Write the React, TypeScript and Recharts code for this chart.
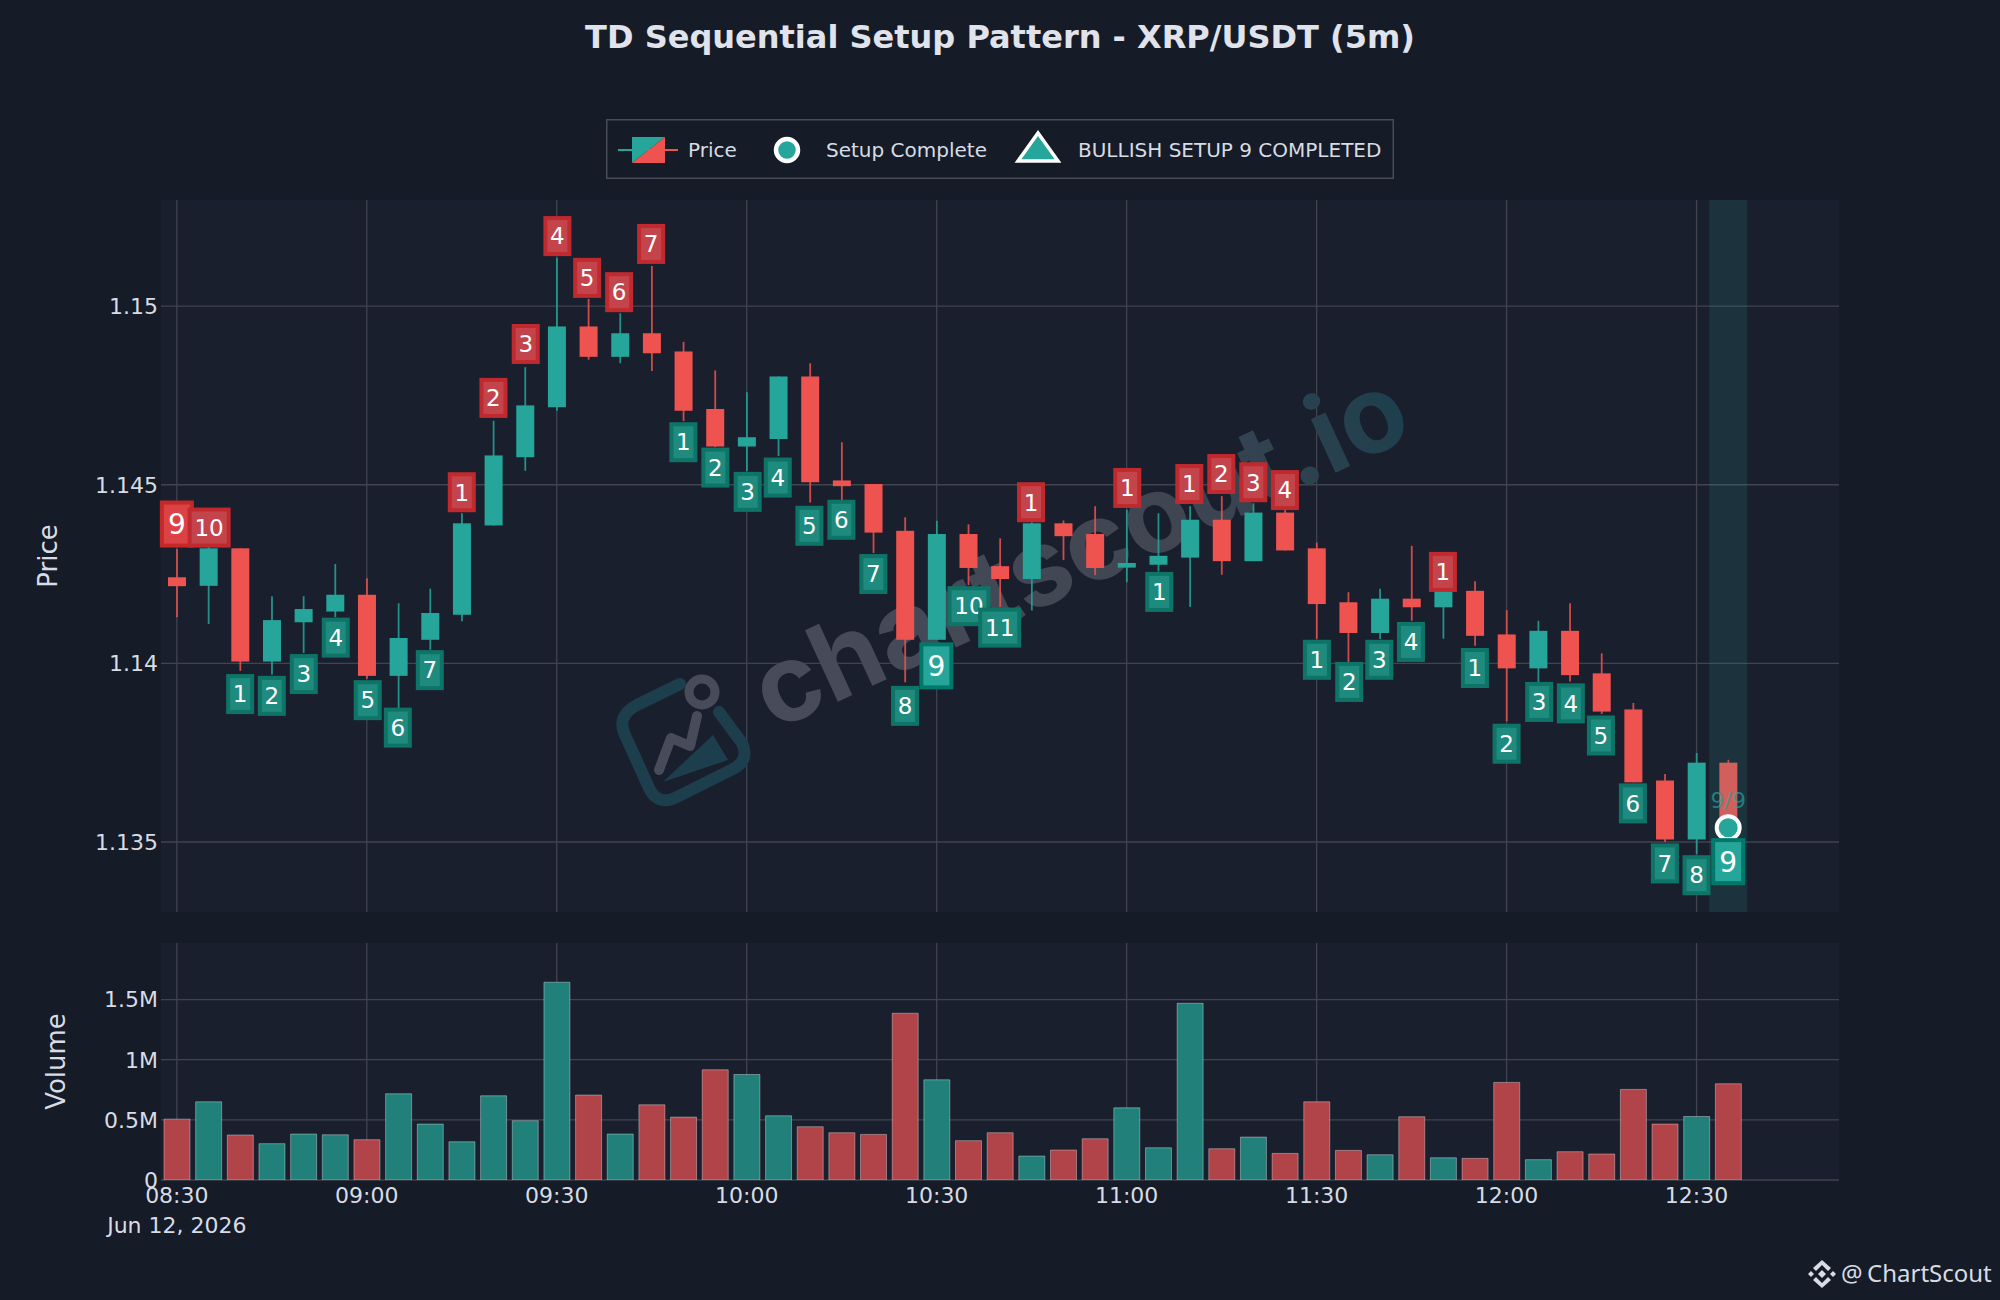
import React from "react";
import {
  ComposedChart,
  BarChart,
  Bar,
  Scatter,
  XAxis,
  YAxis,
  CartesianGrid,
  ReferenceArea,
  ReferenceDot,
  Cell,
} from "recharts";

const UP = "#26a69a";
const DOWN = "#ef5350";
const FONT = "DejaVu Sans";

const opens = [
  1.14241, 1.14217, 1.14322, 1.14005, 1.14115, 1.14145, 1.14192, 1.13965, 1.14066, 1.14136,
  1.14386, 1.14577, 1.14717, 1.14943, 1.14858, 1.14924, 1.14873, 1.14712, 1.14607, 1.14628,
  1.14803, 1.14512, 1.14502, 1.14371, 1.14066, 1.14362, 1.14272, 1.14236, 1.14392, 1.14362,
  1.14268, 1.14276, 1.14296, 1.14402, 1.14286, 1.14422, 1.14322, 1.14171, 1.14085, 1.14181,
  1.14157, 1.14203, 1.14081, 1.13986, 1.14091, 1.13972, 1.13871, 1.13672, 1.13507, 1.13722,
];
const closes = [
  1.14216, 1.14322, 1.14005, 1.14121, 1.14152, 1.14192, 1.13965, 1.14071, 1.14141, 1.14392,
  1.14582, 1.14722, 1.14943, 1.14858, 1.14924, 1.14868, 1.14707, 1.14607, 1.14633, 1.14803,
  1.14507, 1.14496, 1.14366, 1.14066, 1.14362, 1.14267, 1.14236, 1.14392, 1.14356, 1.14267,
  1.14281, 1.14301, 1.14402, 1.14286, 1.14422, 1.14316, 1.14166, 1.14085, 1.14181, 1.14157,
  1.14203, 1.14077, 1.13986, 1.14091, 1.13967, 1.13865, 1.13667, 1.13507, 1.13722, 1.1354,
];
const highs = [
  1.1432, 1.1435, 1.14322, 1.14188, 1.14188, 1.14278, 1.14238, 1.14168, 1.14209, 1.1442,
  1.14679, 1.14829, 1.15135, 1.1502, 1.1498, 1.15112, 1.149, 1.1482, 1.14759, 1.14803,
  1.1484, 1.14619, 1.14502, 1.14409, 1.14399, 1.14389, 1.1435, 1.14395, 1.144, 1.1444,
  1.1443, 1.1442, 1.1444, 1.14468, 1.14448, 1.1443, 1.14338, 1.14199, 1.14209, 1.14329,
  1.14225, 1.1423, 1.14149, 1.14119, 1.14168, 1.14028, 1.13889, 1.1369, 1.13749, 1.1373,
];
const lows = [
  1.14129, 1.1411, 1.13979, 1.13969, 1.14029, 1.14129, 1.13957, 1.13875, 1.14038, 1.14118,
  1.14386, 1.14539, 1.14707, 1.1485, 1.1484, 1.14818, 1.14678, 1.14605, 1.14538, 1.1458,
  1.1445, 1.14457, 1.14309, 1.13947, 1.14066, 1.14219, 1.14158, 1.14148, 1.14289, 1.14247,
  1.14227, 1.14257, 1.14158, 1.14248, 1.14286, 1.14316, 1.14069, 1.13991, 1.14068, 1.14119,
  1.14069, 1.14049, 1.13838, 1.13947, 1.13949, 1.13858, 1.13667, 1.135, 1.13466, 1.1354,
];
const volumes = [
  0.506, 0.65, 0.374, 0.302, 0.382, 0.376, 0.335, 0.717, 0.465, 0.318,
  0.7, 0.493, 1.644, 0.706, 0.382, 0.625, 0.523, 0.916, 0.877, 0.534,
  0.443, 0.393, 0.379, 1.386, 0.833, 0.327, 0.393, 0.199, 0.249, 0.343,
  0.6, 0.268, 1.469, 0.26, 0.357, 0.221, 0.65, 0.246, 0.21, 0.526,
  0.185, 0.18, 0.811, 0.169, 0.235, 0.216, 0.753, 0.465, 0.528, 0.8,
];

const timeTicks = [0, 6, 12, 18, 24, 30, 36, 42, 48];
const timeLabels = ["08:30", "09:00", "09:30", "10:00", "10:30", "11:00", "11:30", "12:00", "12:30"];
const dateLabel = "Jun 12, 2026";
const priceTicks = [1.135, 1.14, 1.145, 1.15];
const volumeTicks = [0, 0.5, 1, 1.5];

// sequence counts: candle slot, price level, text
const sellTags: [number, number, string][] = [
  [0, 1.1439, "9"], [1.02, 1.1438, "10"], [9, 1.14479, "1"], [10, 1.14743, "2"], [11.02, 1.14894, "3"],
  [12.02, 1.15196, "4"], [12.96, 1.15079, "5"], [13.97, 1.15039, "6"], [14.98, 1.15174, "7"],
  [26.98, 1.14451, "1"], [30.02, 1.14491, "1"], [31.98, 1.14502, "1"], [32.99, 1.1453, "2"],
  [34, 1.14507, "3"], [35, 1.14485, "4"], [39.99, 1.14256, "1"],
];
const buyTags: [number, number, string][] = [
  [2, 1.13914, "1"], [3, 1.13909, "2"], [4.01, 1.1397, "3"], [5.02, 1.14072, "4"], [6.03, 1.13897, "5"],
  [6.98, 1.1382, "6"], [7.99, 1.13981, "7"], [16, 1.14619, "1"], [17.01, 1.14548, "2"], [18.03, 1.1448, "3"],
  [18.98, 1.1452, "4"], [19.98, 1.14385, "5"], [20.99, 1.14402, "6"], [22, 1.1425, "7"], [23, 1.13881, "8"],
  [23.99, 1.13993, "9"], [25.02, 1.1416, "10"], [25.99, 1.141, "11"], [31.03, 1.142, "1"], [36.01, 1.1401, "1"],
  [37.03, 1.13948, "2"], [37.98, 1.1401, "3"], [38.98, 1.1406, "4"], [41, 1.13987, "1"], [42, 1.13775, "2"],
  [43.03, 1.13892, "3"], [44.03, 1.13888, "4"], [44.98, 1.13798, "5"], [45.99, 1.13608, "6"], [47, 1.1344, "7"],
  [48, 1.13407, "8"], [49, 1.13445, "9"],
];
// the completed counts get a bigger, brighter box
const completedSell = [0];
const completedBuy = [23.99, 49];
const setupPoint = [{ i: 49, p: 1.1354 }];

const candles = opens.map((open, i) => ({
  i,
  open,
  close: closes[i],
  range: [lows[i], highs[i]],
}));
const volumeData = volumes.map((v, i) => ({ i, v, up: closes[i] >= opens[i] }));
const toTags = (rows: [number, number, string][]) => rows.map(([i, p, text]) => ({ i, p, text }));

function Candle(props: any) {
  const { x, y, width, height, payload } = props;
  const [low, high] = payload.range;
  const perUnit = height / (high - low);
  const up = payload.close >= payload.open;
  const color = up ? UP : DOWN;
  const top = y + (high - Math.max(payload.open, payload.close)) * perUnit;
  const bottom = y + (high - Math.min(payload.open, payload.close)) * perUnit;
  const cx = x + width / 2;
  return (
    <g>
      <line x1={cx} x2={cx} y1={y} y2={y + height} stroke={color} strokeWidth={1.8} opacity={0.85} />
      <rect x={x} y={top} width={width} height={Math.max(bottom - top, 1)} fill={color} />
    </g>
  );
}

function TagBox(props: any, up: boolean) {
  const { cx, cy, payload } = props;
  const big = (up ? completedBuy : completedSell).includes(payload.i);
  const wide = payload.text.length > 1;
  const w = big ? 34 : wide ? 43 : 28;
  const h = big ? 47 : 40;
  let fill = up ? "#1f8a7e" : "#c4444b";
  let stroke = up ? "#0e7468" : "#c02a2f";
  if (big) {
    fill = up ? UP : "#dc4145";
    stroke = up ? "#00796b" : "#c62828";
  }
  return (
    <g>
      <rect x={cx - w / 2 + 2} y={cy - h / 2 + 2} width={w - 4} height={h - 4} fill={fill} stroke={stroke} strokeWidth={4} />
      <text
        x={cx}
        y={cy}
        dy="0.36em"
        textAnchor="middle"
        fill="#ffffff"
        fontFamily={FONT}
        fontSize={big ? 28 : 23}
      >
        {payload.text}
      </text>
    </g>
  );
}

function CompletedDot(props: any) {
  const { cx, cy } = props;
  return <circle cx={cx} cy={cy} r={11.5} fill={UP} stroke="#ffffff" strokeWidth={4} />;
}

function Watermark() {
  return (
    <g>
      <defs>
        <linearGradient id="wm" x1="0" y1="0" x2="1" y2="0">
          <stop offset="0" stopColor="#484c5a" />
          <stop offset="0.65" stopColor="#404552" />
          <stop offset="1" stopColor="#1d3f4d" />
        </linearGradient>
      </defs>
      <text
        x={774}
        y={731}
        transform="rotate(-24.7 774 731)"
        fontFamily="Inter"
        fontWeight="bold"
        fontSize={108}
        fill="url(#wm)"
      >
        chartscout.io
      </text>
      <g fill="none" strokeLinecap="round" strokeLinejoin="round">
        <path d="M680 684 L637 705 Q616 716 625 735 L650 790 Q659 806 677 797 L733 769 Q750 760 742 743 L719 712" stroke="#1d3f4d" strokeWidth={12} />
        <path d="M663 782 L713 735 L728 760 Z" fill="#1d3f4d" stroke="none" />
        <path d="M659 770 L671 738 L690 746 L697 716" stroke="#484c5a" strokeWidth={10} />
        <circle cx={702} cy={692} r={13} stroke="#484c5a" strokeWidth={9} />
      </g>
    </g>
  );
}

function NoTick() {
  return <g />;
}

function TimeTick(props: any) {
  const { x, y, payload, index } = props;
  return (
    <g>
      <text x={x} y={y - 3} dy="0.8em" textAnchor="middle" fill="#d8dce4" fontFamily={FONT} fontSize={22}>
        {timeLabels[timeTicks.indexOf(payload.value)]}
      </text>
      {index === 0 && (
        <text x={x} y={y + 27} dy="0.8em" textAnchor="middle" fill="#d8dce4" fontFamily={FONT} fontSize={22}>
          {dateLabel}
        </text>
      )}
    </g>
  );
}

function PriceLegend() {
  const text = { fill: "#d8dce4", fontFamily: FONT, fontSize: 20 } as const;
  return (
    <svg width={788} height={60} style={{ display: "block" }}>
      <rect x={0.75} y={0.75} width={786.5} height={58.5} fill="#151b27" stroke="#474c58" strokeWidth={1.5} />
      <line x1={12} x2={32} y1={31} y2={31} stroke={UP} strokeWidth={2} />
      <line x1={32} x2={72} y1={31} y2={31} stroke={DOWN} strokeWidth={2} />
      <polygon points="26,18 59,18 26,44" fill={UP} />
      <polygon points="59,18 59,44 26,44" fill={DOWN} />
      <text x={82} y={38} {...text}>Price</text>
      <circle cx={181} cy={31} r={11} fill={UP} stroke="#ffffff" strokeWidth={4.5} />
      <text x={220} y={38} {...text}>Setup Complete</text>
      <polygon points="432,14 452,42 412,42" fill={UP} stroke="#ffffff" strokeWidth={3.5} />
      <text x={472} y={38} {...text}>BULLISH SETUP 9 COMPLETED</text>
    </svg>
  );
}

function Brand() {
  return (
    <div style={{ position: "absolute", left: 1806, top: 1258 }}>
      <svg width={194} height={40} style={{ display: "block" }}>
        <g fill="#d8dce4">
          <polygon points="16,2 25,10 22,13 16,7 10,13 7,10" />
          <polygon points="16,30 25,22 22,19 16,25 10,19 7,22" />
          <polygon points="2,16 5,13 8,16 5,19" />
          <polygon points="30,16 27,13 24,16 27,19" />
          <polygon points="16,12 20,16 16,20 12,16" />
        </g>
        <text x={35} y={24} fill="#d8dce4" fontFamily="Noto Sans" fontSize={24}>@</text>
        <text x={61} y={24} fill="#d8dce4" fontFamily="Noto Sans" fontSize={24}>ChartScout</text>
      </svg>
    </div>
  );
}

export default function App() {
  return (
    <div style={{ position: "absolute", left: 0, top: 0, width: 2000, height: 1300, background: "#151b27", overflow: "hidden" }}>
      <div
        style={{
          position: "absolute",
          left: 0,
          top: 18,
          width: 2000,
          textAlign: "center",
          color: "#e0e3eb",
          fontFamily: FONT,
          fontWeight: "bold",
          fontSize: 32,
        }}
      >
        TD Sequential Setup Pattern - XRP/USDT (5m)
      </div>

      <div style={{ position: "absolute", left: 0, top: 0 }}>
        <ComposedChart
          width={2000}
          height={930}
          data={candles}
          margin={{ top: 200, right: 161, bottom: 18, left: 0 }}
        >
          <CartesianGrid fill="#1a1f2e" stroke="#40444f" strokeWidth={1.3} syncWithTicks verticalValues={timeTicks} />
          <XAxis
            type="number"
            dataKey="i"
            domain={[-0.5, 52.5]}
            ticks={timeTicks}
            tick={NoTick}
            tickLine={false}
            axisLine={false}
            height={0}
          />
          {/* tags sit slightly off their candle, so they get their own axis and the candle width stays intact */}
          <XAxis xAxisId="tags" type="number" dataKey="i" domain={[-0.5, 52.5]} hide />
          <YAxis
            width={161}
            domain={[1.13304, 1.15297]}
            ticks={priceTicks}
            tickFormatter={(v: number) => String(v)}
            tick={{ fill: "#d8dce4", fontFamily: FONT, fontSize: 22 }}
            tickLine={false}
            tickSize={0}
            axisLine={false}
            tickMargin={3}
            allowDataOverflow
            label={{
              value: "Price",
              angle: -90,
              position: "insideLeft",
              offset: 48,
              textAnchor: "middle",
              fill: "#d8dce4",
              fontFamily: FONT,
              fontSize: 26,
            }}
          />
          <Watermark />
          <Bar dataKey="range" barSize={18} shape={Candle} isAnimationActive={false} />
          <ReferenceArea x1={48.4} x2={49.6} fill={UP} fillOpacity={0.15} stroke="none" ifOverflow="visible" zIndex={350} />
          <ReferenceDot x={49} y={1.13618} r={0} label={{ value: "9/9", fill: UP, opacity: 0.65, fontFamily: FONT, fontSize: 22 }} />
          <Scatter xAxisId="tags" data={toTags(sellTags)} dataKey="p" shape={(p: any) => TagBox(p, false)} isAnimationActive={false} />
          <Scatter data={setupPoint} dataKey="p" shape={CompletedDot} isAnimationActive={false} />
          <Scatter xAxisId="tags" data={toTags(buyTags)} dataKey="p" shape={(p: any) => TagBox(p, true)} isAnimationActive={false} />
        </ComposedChart>
      </div>

      <div style={{ position: "absolute", left: 606, top: 119 }}>
        <PriceLegend />
      </div>

      <div style={{ position: "absolute", left: 0, top: 930 }}>
        <BarChart
          width={2000}
          height={340}
          data={volumeData}
          margin={{ top: 13, right: 161, bottom: 0, left: 0 }}
        >
          <CartesianGrid fill="#1a1f2e" stroke="#40444f" strokeWidth={1.3} syncWithTicks />
          <XAxis
            type="number"
            dataKey="i"
            domain={[-0.5, 52.5]}
            ticks={timeTicks}
            tick={TimeTick}
            tickLine={false}
            axisLine={false}
            height={90}
          />
          <YAxis
            width={161}
            domain={[0, 1.97]}
            ticks={volumeTicks}
            tickFormatter={(v: number) => (v === 0 ? "0" : `${v}M`)}
            tick={{ fill: "#d8dce4", fontFamily: FONT, fontSize: 22 }}
            tickLine={false}
            tickSize={0}
            axisLine={false}
            tickMargin={3}
            allowDataOverflow
            label={{
              value: "Volume",
              angle: -90,
              position: "insideLeft",
              offset: 56,
              textAnchor: "middle",
              fill: "#d8dce4",
              fontFamily: FONT,
              fontSize: 26,
            }}
          />
          <Bar dataKey="v" barSize={26} isAnimationActive={false} stroke="rgba(255,255,255,0.35)" strokeWidth={1}>
            {volumeData.map((d) => (
              <Cell key={d.i} fill={d.up ? "#22807a" : "#b04449"} />
            ))}
          </Bar>
        </BarChart>
      </div>

      <Brand />
    </div>
  );
}
